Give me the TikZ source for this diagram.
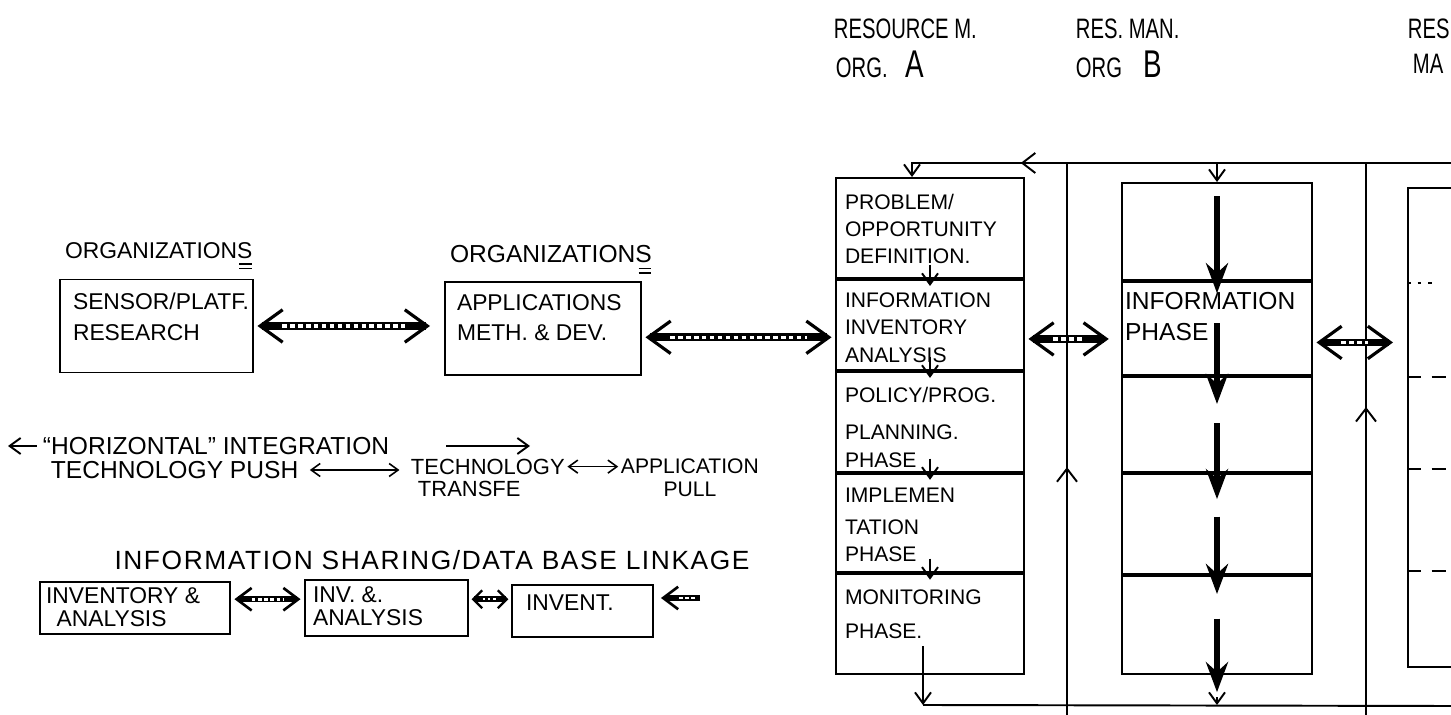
\documentclass[tikz,border=0pt]{standalone}
\usepackage{fontspec}
\setmainfont{Liberation Sans}
\newfontfamily\narrowhand{Liberation Sans}[FakeStretch=0.72]
\usetikzlibrary{arrows.meta,positioning,decorations.markings}

\begin{document}
\begin{tikzpicture}[x=0.02cm,y=-0.02cm,line width=1.1pt,
 font=\fontsize{13}{16}\selectfont,
 cell/.style={draw,inner sep=0pt},
 txt/.style={inner sep=0pt,align=left},
 phase/.style={txt,anchor=north west,font=\fontsize{12}{15.5}\selectfont},
 hdr/.style={inner sep=0pt,anchor=west,font=\narrowhand\fontsize{16}{18}\selectfont},
 tip/.style={-{Straight Barb[length=2.2mm,width=3.2mm]}},
 dbl/.style={{Straight Barb[length=1.8mm,width=2.6mm]}-{Straight Barb[length=1.8mm,width=2.6mm]},line width=0.9pt},
 fatarr/.style={{Straight Barb[length=4.5mm,width=6.5mm,line width=1.8pt]}-{Straight Barb[length=4.5mm,width=6.5mm,line width=1.8pt]},
   line width=4.5pt,
   postaction={draw=white,-,line width=2pt,dash pattern=on 2.5pt off 2pt,shorten <=5mm,shorten >=5mm}},
 smallfat/.style={{Straight Barb[length=3mm,width=4.5mm,line width=1.5pt]}-{Straight Barb[length=3mm,width=4.5mm,line width=1.5pt]},
   line width=3.5pt,
   postaction={draw=white,-,line width=1.5pt,dash pattern=on 2pt off 1.5pt,shorten <=3.5mm,shorten >=3.5mm}},
 tinyfat/.style={{Straight Barb[length=1.8mm,width=3.6mm,line width=1.3pt]}-{Straight Barb[length=1.8mm,width=3.6mm,line width=1.3pt]},
   line width=3.5pt,
   postaction={draw=white,-,line width=1.3pt,dash pattern=on 1.5pt off 1.5pt,shorten <=2.2mm,shorten >=2.2mm}},
 backfat/.style={-{Straight Barb[length=3mm,width=4.5mm,line width=1.5pt]},
   line width=3.5pt,
   postaction={draw=white,-,line width=1.5pt,dash pattern=on 2pt off 1.5pt,shorten <=1mm,shorten >=3.5mm}},
 bigdown/.style={-{Stealth[length=6mm,width=4.4mm]},line width=3.5pt},
 midarrow/.style={postaction={decorate,decoration={markings,
   mark=at position #1 with {\arrow{Straight Barb[length=2.6mm,width=4mm]}}}}}]
\fill[white] (0,0) rectangle (1451,715);
\useasboundingbox (0,0) rectangle (1451,715);

% column headings
\node[hdr] (hA1) at (833,29) {RESOURCE M.};
\node[hdr] (hA2) at (835,64) {ORG.\hspace{10pt}{\fontsize{22}{22}\selectfont A}};
\node[hdr] (hB1) at (1075,29) {RES. MAN.};
\node[hdr] (hB2) at (1075,64) {ORG\hspace{12pt}{\fontsize{22}{22}\selectfont B}};
\node[hdr] (hC1) at (1407,29) {RES};
\node[hdr] (hC2) at (1412,64) {MA};

% organisation A: the phases
\node[cell,minimum width=3.76cm,minimum height=2cm] (pA1) at (930,228) {};
\node[cell,minimum width=3.76cm,minimum height=1.8cm,below=0pt of pA1] (pA2) {};
\node[cell,minimum width=3.76cm,minimum height=2cm,below=0pt of pA2] (pA3) {};
\node[cell,minimum width=3.76cm,minimum height=1.96cm,below=0pt of pA3] (pA4) {};
\node[cell,minimum width=3.76cm,minimum height=2cm,below=0pt of pA4] (pA5) {};
\node[phase] (tA1) at ([shift={(9,16)}]pA1.north west) {PROBLEM/\\OPPORTUNITY\\DEFINITION.};
\node[phase] (tA2) at ([shift={(9,13)}]pA2.north west) {INFORMATION\\INVENTORY\\ANALYSIS};
\node[phase] (tA3) at ([shift={(9,15)}]pA3.north west) {POLICY/PROG.\\[6pt]PLANNING.\\PHASE};
\node[phase] (tA4) at ([shift={(9,14)}]pA4.north west) {IMPLEMEN\\[3pt]TATION\\PHASE};
\node[phase] (tA5) at ([shift={(9,16)}]pA5.north west) {MONITORING\\[4pt]PHASE.};
\foreach \u/\v in {pA1/pA2,pA2/pA3,pA3/pA4,pA4/pA5}
  \draw[tip] ([yshift=8pt]\u.south) -- ([yshift=-4pt]\v.north);

% organisation B
\node[cell,minimum width=3.8cm,minimum height=1.94cm] (pB1) at (1217,231.5) {};
\node[cell,minimum width=3.8cm,minimum height=1.86cm,below=0pt of pB1] (pB2) {};
\node[cell,minimum width=3.8cm,minimum height=1.9cm,below=0pt of pB2] (pB3) {};
\node[cell,minimum width=3.8cm,minimum height=2cm,below=0pt of pB3] (pB4) {};
\node[cell,minimum width=3.8cm,minimum height=1.96cm,below=0pt of pB4] (pB5) {};
\node[txt,anchor=north west,font=\fontsize{14}{18}\selectfont] (tB2)
  at ([shift={(3,10)}]pB2.north west) {INFORMATION\\PHASE};
\draw[bigdown] ([yshift=-8pt]pB1.north) -- ([yshift=-7pt]pB2.north);
\draw[bigdown] ([yshift=-24pt]pB2.north) -- ([yshift=-16pt]pB3.north);
\draw[bigdown] ([yshift=-27pt]pB3.north) -- ([yshift=-15pt]pB4.north);
\draw[bigdown] ([yshift=-25pt]pB4.north) -- ([yshift=-11pt]pB5.north);
\draw[bigdown] ([yshift=-25pt]pB5.north) -- ([yshift=-10pt]pB5.south);

% organisation C
\node[cell,minimum width=3.84cm,minimum height=9.58cm] (pC) at (1504,427.5) {};
\draw[line width=0.9pt,dash pattern=on 2pt off 4pt] (pC.west |- 0,283) -- +(30,0);
\foreach \y in {377,469,571}
  \draw[line width=0.9pt,dash pattern=on 8pt off 6pt] (pC.west |- 0,\y) -- +(50,0);

% feedback loop round the organisations
\coordinate (topL) at (912,163);
\coordinate (topR) at (1451,163);
\coordinate (botL) at (923,705);
\coordinate (botR) at (1451,706);
\coordinate (divAB) at (1067,715);
\coordinate (divBC) at (1366,715);
\draw[tip,midarrow=0.778] (topR) -- (topL) -- (topL |- pA1.north);
\draw[tip] (pB1.north |- topL) -- (pB1.north);
\draw[midarrow=0.449] (divAB) -- (divAB |- topL);
\draw[midarrow=0.558] (divBC) -- (divBC |- topL);
\draw (botL) -- (botR);
\draw[tip] ([yshift=16pt]pA5.south -| botL) -- (botL);
\draw[tip] ([yshift=-13pt]pB5.south) -- (pB5.south |- botL);
\draw[fatarr] ([xshift=2pt,yshift=-8pt]pA2.east) -- ([xshift=-7pt,yshift=-8pt]pA2.east -| pB2.west);
\draw[fatarr] ([xshift=2pt,yshift=-8pt]pB2.east) -- ([xshift=-8pt,yshift=-8pt]pB2.east -| pC.west);

% left: research and applications
\node[cell,minimum width=3.86cm,minimum height=1.86cm] (frS) at (156.5,326) {};
\node[txt,anchor=north west] (tS) at ([shift={(13,13)}]frS.north west) {SENSOR/PLATF.\\[2pt]RESEARCH};
\node[txt,anchor=south west] (org1) at ([shift={(5,-19)}]frS.north west) {ORGANIZATIONS};
\draw[line width=0.8pt] ([xshift=-8pt,yshift=-2.5pt]org1.south east) -- ++(7pt,0);
\draw[line width=0.8pt] ([xshift=-8pt,yshift=-5pt]org1.south east) -- ++(7pt,0);
\node[cell,minimum width=3.92cm,minimum height=1.86cm] (frApp) at (543,328.5) {};
\node[txt,anchor=north west] (tApp) at ([shift={(12,13)}]frApp.north west) {APPLICATIONS\\[1pt]METH. \& DEV.};
\node[txt,anchor=south west,font=\fontsize{14}{17}\selectfont] (org2)
  at ([shift={(5,-17)}]frApp.north west) {ORGANIZATIONS};
\draw[line width=0.8pt] ([xshift=-8pt,yshift=-2.5pt]org2.south east) -- ++(7pt,0);
\draw[line width=0.8pt] ([xshift=-8pt,yshift=-5pt]org2.south east) -- ++(7pt,0);
\draw[fatarr] ([xshift=2pt]frS.east) -- ([xshift=-8pt]frS.east -| frApp.west);
\draw[fatarr] ([xshift=2pt,yshift=-5pt]frApp.east) -- ([xshift=-2pt,yshift=-5pt]frApp.east -| pA2.west);

% integration line
\node[txt,anchor=west,font=\fontsize{14}{17}\selectfont] (horiz) at (42,446) {``HORIZONTAL'' INTEGRATION};
\coordinate (hzL) at (8,446);
\coordinate (hzR) at (530,446);
\draw[tip] ([xshift=-3pt]horiz.west) -- (hzL);
\draw[tip] ([xshift=32pt]horiz.east) -- (hzR);
\node[txt,anchor=west,font=\fontsize{14}{17}\selectfont] (push) at (50,470) {TECHNOLOGY PUSH};
\node[txt,anchor=west,font=\fontsize{12.5}{13}\selectfont] (transf) at (410,478) {TECHNOLOGY\\\hspace{4pt}TRANSFE};
\node[txt,anchor=west,align=center,font=\fontsize{12}{13}\selectfont] (pull) at (620,478) {APPLICATION\\PULL};
\draw[dbl,shorten <=6pt,shorten >=6pt] (push.east) -- (push.east -| transf.west);
\draw[dbl,shorten <=1pt,shorten >=1pt] ([yshift=-5pt]transf.north east) -- ([yshift=-5pt]transf.north east -| pull.west);

% database linkage
\node[txt,font=\fontsize{15}{18}\selectfont\addfontfeatures{LetterSpace=6}] (share) at (432,560)
  {INFORMATION SHARING/DATA BASE LINKAGE};
\node[cell,minimum width=3.8cm,minimum height=1.04cm] (inv1) at (135,608) {};
\node[txt,anchor=north west,font=\fontsize{13}{13}\selectfont] (tI1) at ([shift={(6,6)}]inv1.north west) {INVENTORY \&\\\hspace{6pt}ANALYSIS};
\node[cell,minimum width=3.26cm,minimum height=1.12cm] (inv2) at (386.5,608) {};
\node[txt,anchor=north west,font=\fontsize{13}{13}\selectfont] (tI2) at ([shift={(8,7)}]inv2.north west) {INV. \&.\\ANALYSIS};
\node[cell,minimum width=2.82cm,minimum height=1.04cm] (inv3) at (582.5,611) {};
\node[txt,anchor=north west,font=\fontsize{13}{13}\selectfont] (tI3) at ([shift={(14,10)}]inv3.north west) {INVENT.};
\coordinate (invR) at (700,598);
\draw[smallfat] ([xshift=2pt,yshift=5pt]inv1.east) -- ([xshift=-2pt,yshift=5pt]inv1.east -| inv2.west);
\draw[tinyfat] ([xshift=1.5pt,yshift=5pt]inv2.east) -- ([xshift=-1.5pt,yshift=5pt]inv2.east -| inv3.west);
\draw[backfat] (invR) -- ([xshift=4pt]invR -| inv3.east);
\end{tikzpicture}
\end{document}
